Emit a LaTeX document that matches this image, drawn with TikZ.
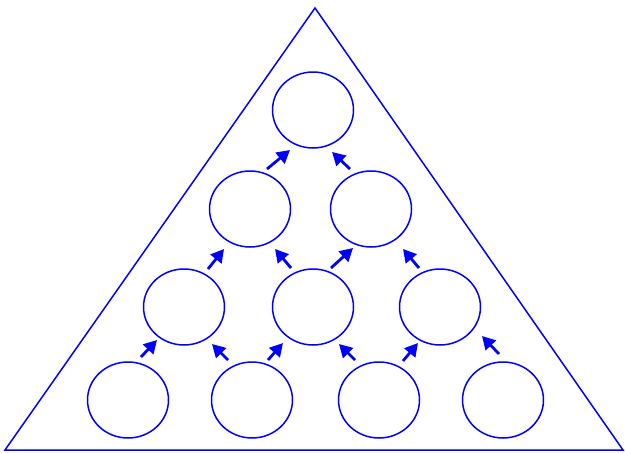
\documentclass[tikz,border=0pt]{standalone}
\usetikzlibrary{arrows.meta,shapes.geometric}
\begin{document}
\begin{tikzpicture}[x=1pt,y=-1pt,
  cell/.style={draw=blue,line width=1.5pt,ellipse,minimum width=81pt,minimum height=76pt,inner sep=0pt},
  arr/.style={draw=blue,line width=2.8pt,-{Triangle[length=13pt,width=14pt]}},
  frame/.style={draw=blue,line width=1.5pt}]
\useasboundingbox (0,0) rectangle (625,453);
\coordinate (apex) at (315,8);
\coordinate (bl) at (5,450);
\coordinate (br) at (623,450);
\draw[frame] (apex) -- (bl) -- (br) -- cycle;
\node[cell] (t) at (313,110) {};
\node[cell] (m1) at (250,209) {};
\node[cell] (m2) at (371,209) {};
\node[cell] (r1) at (184,307) {};
\node[cell] (r2) at (313,307) {};
\node[cell] (r3) at (440,307) {};
\node[cell] (b1) at (128,400) {};
\node[cell] (b2) at (252,400) {};
\node[cell] (b3) at (379,400) {};
\node[cell] (b4) at (503,400) {};
% row 1-2
\draw[arr] ([shift={(17,-40)}]m1.center) -- ([shift={(-23,40)}]t.center);
\draw[arr] ([shift={(-21,-40)}]m2.center) -- ([shift={(19,42)}]t.center);
% row 2-3
\draw[arr] ([shift={(24,-38)}]r1.center) -- ([shift={(-26,40)}]m1.center);
\draw[arr] ([shift={(-22,-39)}]r2.center) -- ([shift={(25,40)}]m1.center);
\draw[arr] ([shift={(18,-39)}]r2.center) -- ([shift={(-18,39)}]m2.center);
\draw[arr] ([shift={(-21,-39)}]r3.center) -- ([shift={(32,40)}]m2.center);
% row 3-4
\draw[arr] ([shift={(13,-43)}]b1.center) -- ([shift={(-27,33)}]r1.center);
\draw[arr] ([shift={(-24,-40)}]b2.center) -- ([shift={(28,37)}]r1.center);
\draw[arr] ([shift={(16,-40)}]b2.center) -- ([shift={(-30,36)}]r2.center);
\draw[arr] ([shift={(-24,-40)}]b3.center) -- ([shift={(26,37)}]r2.center);
\draw[arr] ([shift={(24,-39)}]b3.center) -- ([shift={(-22,36)}]r3.center);
\draw[arr] ([shift={(-4,-46)}]b4.center) -- ([shift={(42,29)}]r3.center);
\end{tikzpicture}
\end{document}
